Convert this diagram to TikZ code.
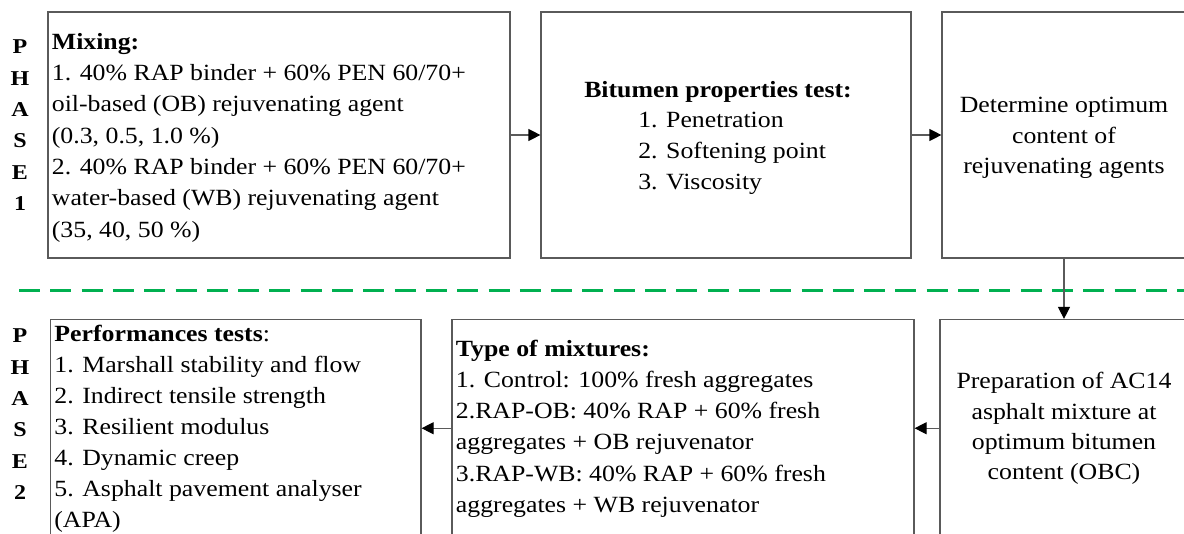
\documentclass[tikz,border=0pt]{standalone}
\usepackage{fontspec}
\setmainfont{Liberation Serif}
\usepackage{graphicx}
\usetikzlibrary{arrows.meta,calc}

\definecolor{phasegreen}{RGB}{0,176,80}
\definecolor{boxline}{RGB}{90,90,90}

% #1 column spec, #2 line distance, #3 body (slightly squashed vertically)
\newcommand\txtblock[3]{%
  \scalebox{1}[0.9]{\fontsize{12.9pt}{#2}\selectfont
    \begin{tabular}{@{}#1@{}}#3\end{tabular}}}
% vertical phase label, baseline at the first letter
\newcommand\phaseletters[1]{%
  \scalebox{1}[0.88]{\fontsize{12pt}{17.8pt}\selectfont\bfseries
    \begin{tabular}[t]{@{}c@{}}#1\end{tabular}}}

\begin{document}
\begin{tikzpicture}[x=0.5pt,y=-0.5pt,
  stepbox/.style={draw=boxline, line width=0.6pt, rectangle, inner sep=0pt},
  label/.style={inner sep=0pt, outer sep=0pt},
  arr/.style={draw=boxline, line width=0.6pt,
    -{Triangle[length=6pt,width=6pt,color=black,fill=black]}},
  separator/.style={draw=phasegreen, line width=1.5pt,
    dash pattern=on 10.5pt off 5.15pt}]
\useasboundingbox (0,0) rectangle (1184,534);
\clip (0,0) rectangle (1184,534);

% ---------- phase 1 boxes ----------
\node[stepbox, minimum width=231pt, minimum height=123pt] (b1) at (279,135) {};
\node[stepbox, minimum width=185pt, minimum height=123pt] (b2) at (726,135) {};
\node[stepbox, minimum width=122pt, minimum height=123pt] (b3) at (1064,135) {};

% ---------- phase 2 boxes ----------
\node[stepbox, minimum width=185.25pt, minimum height=108.75pt] (b4) at (235.75,428.25) {};
\node[stepbox, minimum width=231pt, minimum height=108.75pt] (b5) at (683,428.25) {};
\node[stepbox, minimum width=124pt, minimum height=108.75pt] (b6) at (1064,428.25) {};

% ---------- phase labels ----------
\node[label, anchor=base] (p1) at (20,54) {\phaseletters{P\\H\\A\\S\\E\\1}};
\node[label, anchor=base] (p2) at (20,343) {\phaseletters{P\\H\\A\\S\\E\\2}};

% ---------- box texts ----------
\node[label, anchor=west] (t1) at ($(b1.west)+(4.5,2)$) {\txtblock{l}{17.39pt}{%
  \textbf{Mixing:}\\
  1. 40\% RAP binder + 60\% PEN 60/70+\\
  oil-based (OB) rejuvenating agent\\
  (0.3, 0.5, 1.0 \%)\\
  2. 40\% RAP binder + 60\% PEN 60/70+\\
  water-based (WB) rejuvenating agent\\
  (35, 40, 50 \%)}};

\node[label] (t2) at ($(b2.center)+(-8,2)$) {\txtblock{l}{17.05pt}{%
  \textbf{Bitumen properties test:}\\
  \hspace*{27pt}1. Penetration\\
  \hspace*{27pt}2. Softening point\\
  \hspace*{27pt}3. Viscosity}};

\node[label] (t3) at ($(b3.center)+(0,2)$) {\txtblock{c}{17pt}{%
  Determine optimum\\
  content of\\
  rejuvenating agents}};

\node[label, anchor=west] (t4) at ($(b4.west)+(4.5,0)$) {\txtblock{l}{17.25pt}{%
  \textbf{Performances tests}:\\
  1. Marshall stability and flow\\
  2. Indirect tensile strength\\
  3. Resilient modulus\\
  4. Dynamic creep\\
  5. Asphalt pavement analyser\\
  (APA)}};

\node[label, anchor=west] (t5) at ($(b5.west)+(4.5,0)$) {\txtblock{l}{17.25pt}{%
  \textbf{Type of mixtures:}\\
  1. Control: 100\% fresh aggregates\\
  2.RAP-OB: 40\% RAP + 60\% fresh\\
  aggregates + OB rejuvenator\\
  3.RAP-WB: 40\% RAP + 60\% fresh\\
  aggregates + WB rejuvenator}};

\node[label] (t6) at (b6.center) {\txtblock{c}{16.8pt}{%
  Preparation of AC14\\
  asphalt mixture at\\
  optimum bitumen\\
  content (OBC)}};

% ---------- phase separator ----------
\coordinate (sepL) at (19,291);
\coordinate (sepR) at (1190,291);
\draw[separator] (sepL) -- (sepR);

% ---------- flow ----------
\draw[arr] (b1.east) -- (b2.west);
\draw[arr] (b2.east) -- (b3.west);
\draw[arr] (b3.south) -- (b6.north);
\draw[arr] (b6.west) -- (b5.east);
\draw[arr] (b5.west) -- (b4.east);
\end{tikzpicture}
\end{document}
